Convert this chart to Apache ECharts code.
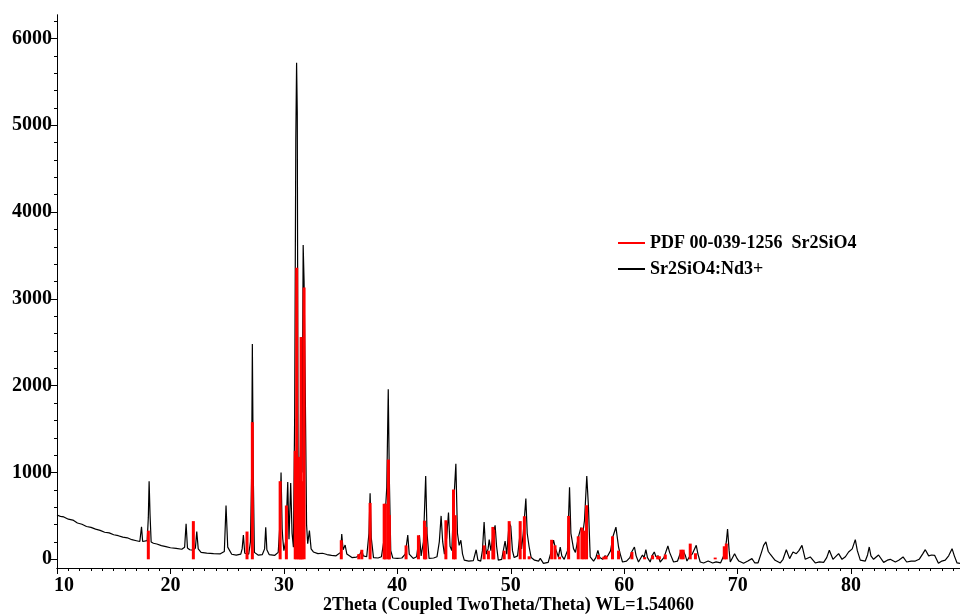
<!DOCTYPE html>
<html>
<head>
<meta charset="utf-8">
<script src="https://cdn.jsdelivr.net/npm/echarts@6/dist/echarts.min.js"></script>
<style>
  html, body { margin: 0; padding: 0; background: #fff; }
  #chart { width: 960px; height: 614px; }
</style>
</head>
<body>
<div id="chart"></div>
<script>
// measured pattern Sr2SiO4:Nd3+ (2theta, counts)
const scanAngle = [
  10.0, 10.3, 10.6, 11.0, 11.4, 11.8, 12.2, 12.6, 13.0, 13.4, 13.8, 14.2, 14.6, 15.0, 15.4, 15.8, 16.2, 16.6, 17.0, 17.3,
  17.35, 17.45, 17.55, 17.95, 18.05, 18.12, 18.2, 18.3, 18.5, 18.8, 19.2, 19.6, 20.0, 20.5, 21.0, 21.25, 21.38, 21.5, 21.7, 22.0,
  22.2, 22.32, 22.45, 22.7, 23.2, 23.8, 24.4, 24.75, 24.9, 25.05, 25.4, 25.8, 26.2, 26.32, 26.43, 26.55, 26.9, 27.05, 27.15, 27.22,
  27.3, 27.4, 27.75, 28.1, 28.3, 28.4, 28.5, 28.7, 29.2, 29.5, 29.65, 29.75, 29.85, 29.9, 30.0, 30.15, 30.34, 30.45, 30.6, 30.72,
  30.84, 30.95, 31.05, 31.12, 31.18, 31.25, 31.35, 31.45, 31.52, 31.6, 31.7, 31.78, 31.9, 32.0, 32.1, 32.25, 32.4, 32.6, 33.0, 33.4,
  33.8, 34.2, 34.6, 35.0, 35.1, 35.22, 35.4, 35.55, 36.0, 36.4, 36.7, 36.87, 37.0, 37.3, 37.5, 37.6, 37.7, 37.9, 38.3, 38.6,
  38.8, 38.95, 39.07, 39.2, 39.3, 39.42, 39.6, 40.0, 40.4, 40.7, 40.92, 41.05, 41.4, 41.7, 41.95, 42.1, 42.3, 42.5, 42.62, 42.8,
  43.2, 43.5, 43.7, 43.86, 44.0, 44.15, 44.35, 44.51, 44.65, 44.8, 44.95, 45.16, 45.3, 45.45, 45.6, 45.75, 45.9, 46.3, 46.7, 46.95,
  47.1, 47.35, 47.5, 47.65, 47.75, 47.85, 48.0, 48.1, 48.25, 48.45, 48.62, 48.75, 48.9, 49.2, 49.5, 49.65, 49.86, 50.0, 50.15, 50.3,
  50.6, 50.83, 50.95, 51.1, 51.33, 51.45, 51.62, 51.8, 52.1, 52.45, 52.6, 52.88, 53.3, 53.5, 53.77, 53.95, 54.2, 54.36, 54.5, 54.71,
  55.0, 55.18, 55.3, 55.53, 55.7, 55.95, 56.18, 56.35, 56.5, 56.7, 56.85, 57.0, 57.3, 57.5, 57.68, 57.85, 58.1, 58.3, 58.5, 58.8,
  59.0, 59.27, 59.5, 59.65, 59.85, 60.2, 60.5, 60.68, 60.9, 61.05, 61.26, 61.61, 61.75, 61.91, 62.05, 62.29, 62.45, 62.65, 62.8, 63.0,
  63.17, 63.5, 63.85, 64.0, 64.35, 64.7, 65.0, 65.2, 65.4, 65.53, 65.8, 66.0, 66.35, 66.5, 66.7, 67.0, 67.4, 67.8, 68.1, 68.5,
  68.8, 69.0, 69.11, 69.25, 69.35, 69.73, 69.9, 70.1, 70.52, 70.9, 71.26, 71.5, 71.8, 72.1, 72.29, 72.49, 72.7, 72.87, 73.3, 73.76,
  74.0, 74.29, 74.58, 74.88, 75.17, 75.4, 75.67, 75.96, 76.4, 76.84, 77.2, 77.58, 77.85, 78.08, 78.4, 78.9, 79.2, 79.5, 79.78, 80.1,
  80.37, 80.55, 80.81, 81.25, 81.45, 81.6, 81.75, 81.98, 82.42, 82.87, 83.2, 83.45, 83.9, 84.2, 84.58, 84.9, 85.3, 85.66, 86.0, 86.3,
  86.54, 86.84, 87.1, 87.36, 87.7, 88.0, 88.3, 88.6, 88.9, 89.1, 89.34, 89.6
];
const scanCounts = [
  510, 495, 488, 462, 452, 418, 404, 378, 368, 348, 334, 312, 304, 283, 272, 255, 248, 226, 214, 205,
  210, 375, 205, 215, 480, 900, 520, 200, 185, 176, 158, 147, 133, 126, 116, 140, 410, 130, 110, 105,
  130, 320, 120, 80, 72, 66, 63, 90, 620, 140, 58, 48, 60, 120, 280, 70, 60, 200, 900, 2480,
  1000, 80, 48, 55, 120, 370, 110, 55, 46, 80, 400, 1000, 350, 240, 100, 200, 890, 230, 880, 300,
  140, 1650, 4830, 5720, 5150, 1100, 400, 1300, 2560, 1000, 3620, 3200, 1750, 400, 180, 330, 120, 85, 65, 70,
  55, 45, 40, 80, 290, 110, 165, 60, 20, 25, 60, 100, 40, 30, 300, 760, 250, 20, 15, 30,
  200, 560, 830, 1960, 900, 100, 15, 10, 15, 60, 280, 60, 10, 30, 277, 40, 200, 960, 300, 10,
  15, 30, 200, 500, 200, 60, 250, 540, 150, 100, 600, 1100, 300, 160, 220, 60, -10, -20, -15, 110,
  -10, -20, 100, 430, 200, 60, 120, 227, 100, 300, 392, 150, -10, 0, 211, 60, 420, 380, 100, 20,
  40, 304, 120, 300, 700, 300, 142, 20, -10, -20, 10, -46, -35, 60, 220, 120, 27, 142, 40, 0,
  100, 830, 300, 123, 80, 250, 365, 300, 450, 960, 600, 27, -20, 20, 104, 20, 0, 40, 30, 100,
  260, 370, 142, 60, -31, -20, 20, 90, 142, 40, -31, 50, 20, 111, 20, -31, 40, 84, 30, 40,
  -31, 20, 154, 80, -31, -20, 90, 100, 40, -20, 40, 60, 161, 60, -31, -42, -20, -42, -30, -40,
  50, 200, 350, 100, -31, 65, 20, -20, -46, -20, 8, -40, -40, 80, 161, 200, 90, 60, -11, -42,
  0, 111, 8, 84, 65, 100, 161, 0, 27, -42, -30, -35, 20, 104, 0, 65, 0, 30, 84, 120,
  227, 100, -10, -20, 50, 142, 40, 0, 50, -35, -10, 0, -31, -10, 27, -31, -20, -20, 0, 60,
  111, 40, 50, 46, -46, -20, -10, 40, 123, 40, -42, -46
];

// reference card PDF 00-039-1256 Sr2SiO4 (stick positions, intensity)
const refAngle = [
  18.05, 22.02, 26.75, 27.22, 29.67, 30.22, 31.0, 31.13, 31.28, 31.42, 31.52, 31.62, 31.78, 35.06, 36.6, 36.87, 37.6, 38.84, 38.95, 39.21,
  39.3, 40.77, 41.86, 42.39, 42.51, 44.28, 44.95, 45.1, 47.65, 48.03, 48.42, 48.5, 49.42, 49.86, 50.83, 51.2, 51.62, 53.6, 53.9, 54.3,
  55.1, 55.95, 56.27, 56.45, 56.68, 57.73, 58.2, 58.4, 58.97, 59.5, 60.68, 61.8, 62.5, 62.95, 63.1, 63.62, 65.0, 65.2, 65.82, 66.28,
  68.02, 68.82, 69.0
];
const refIntensity = [
  330, 440, 320, 1580, 900, 620, 1250, 3360, 1180, 880, 2560, 900, 3130, 220, 60, 110, 650, 640, 640, 1150,
  510, 160, 277, 445, 372, 450, 804, 508, 161, 100, 373, 340, 100, 440, 440, 496, 35, 225, 161, 30,
  500, 265, 365, 330, 623, 50, 30, 40, 265, 100, 84, 25, 45, 40, 35, 55, 111, 111, 181, 70,
  20, 150, 181
];

const xMajorTicks = [10, 20, 30, 40, 50, 60, 70, 80];
const yMajorTicks = [0, 1000, 2000, 3000, 4000, 5000, 6000];

const xMinorTicks = [];
for (let v = 11; v <= 89; v++) if (v % 10 !== 0) xMinorTicks.push(v);
const yMinorTicks = [];
for (let v = 200; v <= 6200; v += 200) if (v % 1000 !== 0) yMinorTicks.push(v);

const serif = '"Liberation Serif", "Times New Roman", serif';
const X_MIN = 10, X_MAX = 89.6, Y_MIN = -100, Y_MAX = 6270;

const chart = echarts.init(document.getElementById('chart'), null, { renderer: 'canvas' });

const axisBlack = { color: '#000', width: 1 };

const option = {
  animation: false,
  backgroundColor: '#fff',
  grid: { left: 57, right: 0, top: 15, bottom: 46, containLabel: false, outerBoundsMode: 'none' },
  legend: {
    orient: 'vertical',
    left: 613,
    top: 229,
    itemWidth: 27,
    itemHeight: 2,
    itemGap: 8,
    icon: 'rect',
    textStyle: {
      fontFamily: serif,
      fontWeight: 'bold',
      fontSize: 18,
      lineHeight: 18,
      color: '#000'
    },
    data: ['PDF 00-039-1256  Sr2SiO4', 'Sr2SiO4:Nd3+']
  },
  xAxis: [
    {
      type: 'value',
      min: X_MIN,
      max: X_MAX,
      name: '2Theta (Coupled TwoTheta/Theta) WL=1.54060',
      nameLocation: 'middle',
      nameGap: 28,
      nameMoveOverlap: false,
      nameTextStyle: { fontFamily: serif, fontWeight: 'bold', fontSize: 18, color: '#000' },
      axisLine: { show: true, onZero: false, lineStyle: axisBlack },
      axisTick: { show: true, length: 6, customValues: xMajorTicks, lineStyle: axisBlack },
      axisLabel: {
        show: true,
        customValues: xMajorTicks,
        margin: 8,
        fontFamily: serif,
        fontWeight: 'bold',
        fontSize: 20,
        color: '#000',
        formatter: (v) => (v === 10 ? '{first|10}' : String(v)),
        rich: { first: { padding: [0, 0, 0, 14], fontFamily: serif, fontWeight: 'bold', fontSize: 20, color: '#000' } }
      },
      splitLine: { show: false }
    },
    {
      type: 'value',
      position: 'bottom',
      min: X_MIN,
      max: X_MAX,
      axisLine: { show: true, onZero: false, lineStyle: axisBlack },
      axisTick: { show: true, length: 3, customValues: xMinorTicks, lineStyle: axisBlack },
      axisLabel: { show: false },
      splitLine: { show: false }
    }
  ],
  yAxis: [
    {
      type: 'value',
      min: Y_MIN,
      max: Y_MAX,
      axisLine: { show: true, onZero: false, lineStyle: axisBlack },
      axisTick: { show: true, length: 6, customValues: yMajorTicks, lineStyle: axisBlack },
      axisLabel: {
        show: true,
        customValues: yMajorTicks,
        margin: 5,
        fontFamily: serif,
        fontWeight: 'bold',
        fontSize: 20,
        color: '#000',
        formatter: (v) => String(v)
      },
      splitLine: { show: false }
    },
    {
      type: 'value',
      position: 'left',
      min: Y_MIN,
      max: Y_MAX,
      axisLine: { show: true, onZero: false, lineStyle: axisBlack },
      axisTick: { show: true, length: 3, customValues: yMinorTicks, lineStyle: axisBlack },
      axisLabel: { show: false },
      splitLine: { show: false }
    }
  ],
  series: [
    {
      name: 'Sr2SiO4:Nd3+',
      type: 'line',
      xAxisIndex: 0,
      yAxisIndex: 0,
      showSymbol: false,
      symbol: 'none',
      lineStyle: { color: '#000', width: 1.2 },
      itemStyle: { color: '#000' },
      z: 2,
      data: scanAngle.map((a, i) => [a, scanCounts[i]])
    },
    {
      name: 'PDF 00-039-1256  Sr2SiO4',
      type: 'bar',
      xAxisIndex: 0,
      yAxisIndex: 0,
      barWidth: 3,
      itemStyle: { color: '#ff0000' },
      z: 3,
      data: refAngle.map((a, i) => [a, refIntensity[i]])
    }
  ]
};

chart.setOption(option);
</script>
</body>
</html>
